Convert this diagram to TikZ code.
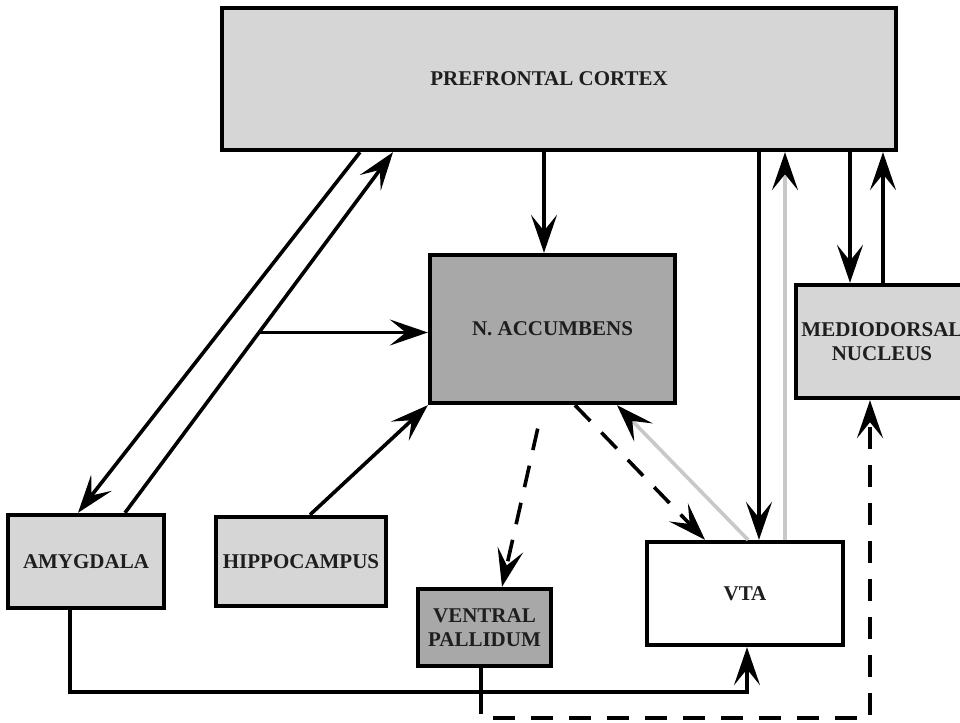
\documentclass[tikz,border=0pt]{standalone}
\usepackage{fontspec}
\setmainfont{Liberation Serif}
\usetikzlibrary{arrows.meta,calc}
\definecolor{boxlight}{HTML}{D6D6D6}
\definecolor{boxdark}{HTML}{A8A8A8}
\definecolor{graylink}{HTML}{C8C8C8}
\definecolor{txt}{HTML}{1E1E1E}
\begin{document}
\begin{tikzpicture}[x=0.5pt,y=-0.5pt,
  region/.style={draw=black, line width=2.2pt, inner sep=2pt, align=center,
    font=\bfseries\fontsize{10.5}{12}\selectfont, text=txt},
  link/.style={line width=1.8pt, -{Stealth[length=19pt,width=13pt,inset=8pt]}},
  dlink/.style={link, dash pattern=on 11pt off 8pt},
  glink/.style={draw=graylink, line width=1.8pt, -{Stealth[length=19pt,width=13pt,inset=8pt,black]}},
  plain/.style={line width=1.8pt}]
\useasboundingbox (0,0) rectangle (960,723);
\clip (0,0) rectangle (960,723);
% regions
\node[region, fill=boxlight, minimum width=337pt, minimum height=71pt] (pfc) at (559,79) {PREFRONTAL CORTEX\hspace*{10pt}};
\node[region, fill=boxdark, minimum width=122.5pt, minimum height=74pt] (nacc) at (552.5,329) {N. ACCUMBENS};
\node[region, fill=boxlight, minimum width=86pt, minimum height=56.5pt] (md) at (882,341.5) {MEDIODORSAL\\NUCLEUS};
\node[region, fill=boxlight, minimum width=78pt, minimum height=46.5pt] (amy) at (86,561.5) {\raisebox{-2pt}{AMYGDALA}};
\node[region, fill=boxlight, minimum width=85pt, minimum height=44.5pt] (hip) at (301,561.5) {HIPPOCAMPUS};
\node[region, fill=boxdark, minimum width=66.5pt, minimum height=38.5pt] (vp) at (484.5,627.5) {VENTRAL\\PALLIDUM};
\node[region, fill=white, minimum width=98pt, minimum height=51.5pt] (vta) at (745,593.5) {\raisebox{-2pt}{VTA}};
% x positions
\foreach \x in {70,78,125,310,360,393,481,502,543,544,575,617,705,747,748,759,785,850,870,883}
  \coordinate (c\x) at (\x,0);
% connectors
\draw[link] (pfc.south -| c544) -- (nacc.north -| c544);
\draw[link] (pfc.south -| c759) -- (vta.north -| c759);
\draw[glink] (vta.north -| c785) -- (pfc.south -| c785);
\draw[link] (pfc.south -| c850) -- (md.north -| c850);
\draw[link] (md.north -| c883) -- (pfc.south -| c883);
\draw[link] (pfc.south -| c360) -- (amy.north -| c78);
\draw[link] (amy.north -| c125) -- (pfc.south -| c393);
\path (amy.north -| c125) -- (pfc.south -| c393) coordinate[pos=0.5] (br);
\draw[link] (br) -- (br -| nacc.west);
\draw[link] (hip.north -| c310) -- (nacc.south west);
\draw[dlink] (nacc.south -| c575) -- (vta.north -| c705);
\draw[glink] (vta.north -| c748) -- (nacc.south -| c617);
\draw[dlink, shorten <=12pt] (nacc.south -| c543) -- (vp.north -| c502);
\coordinate (jn) at (747,692);
\coordinate (jv) at (481,692);
\draw[link] (amy.south -| c70) |- (jn) -- (vta.south -| jn);
\draw[plain] (vp.south -| jv) -- (jv);
\coordinate (dv) at (481,718);
\coordinate (dm) at (870,718);
\draw[dlink] (jv) -- (dv) -- (dm) -- (md.south -| dm);
\end{tikzpicture}
\end{document}
